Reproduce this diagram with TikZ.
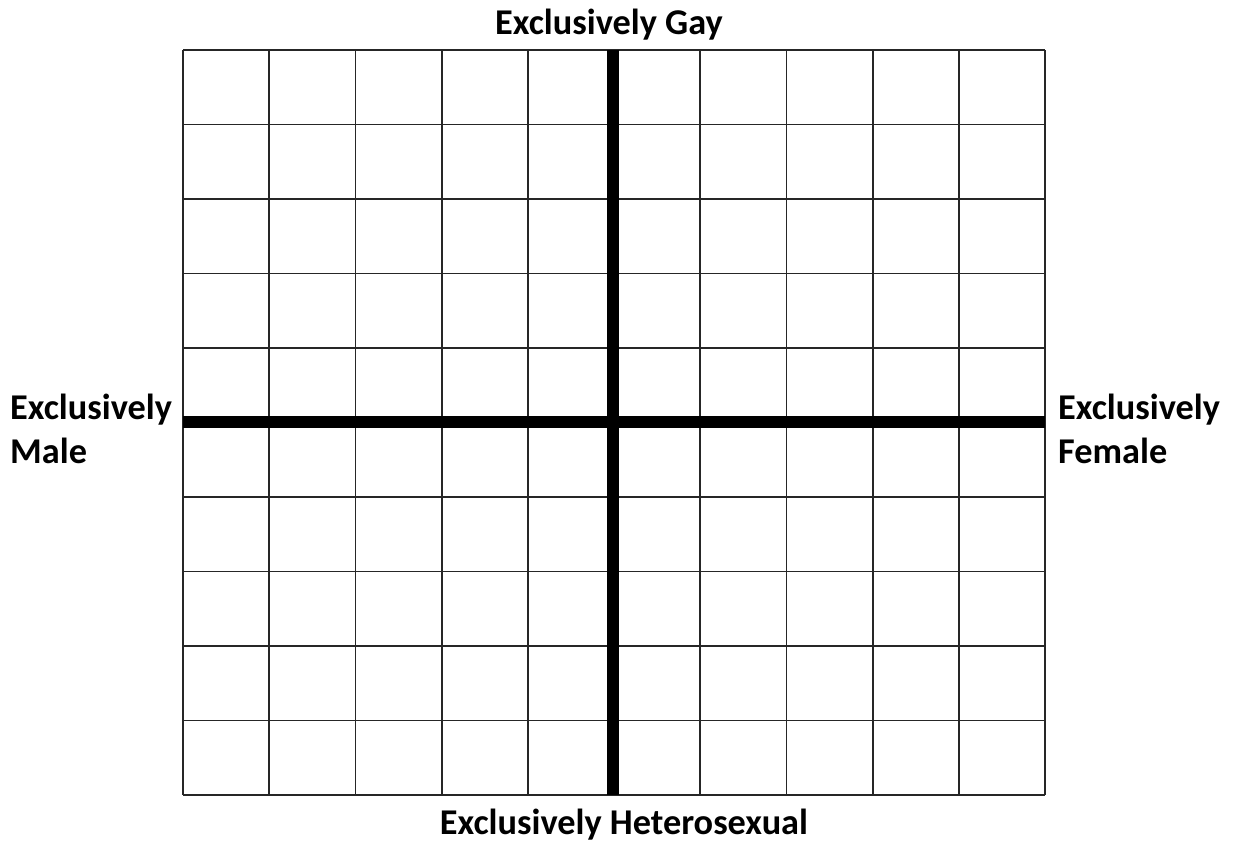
\documentclass[tikz,border=0pt]{standalone}
\usepackage{fontspec}
\setmainfont{Carlito}
\usetikzlibrary{positioning}

\begin{document}
\begin{tikzpicture}[
x=1pt, y=-1pt,
gridline/.style={line width=1.8pt, black!85},
axisline/.style={line width=11.5pt, black},
axlabel/.style={font=\bfseries\fontsize{36.3}{44}\selectfont, inner sep=0pt, align=left}
]
\useasboundingbox (0,0) rectangle (1238,841);

% grid, 10 x 10 cells
\foreach \i in {0,...,10} {
  \draw[gridline] ({183+86.2*\i},50) -- ({183+86.2*\i},795);
  \draw[gridline] (183,{50+74.5*\i}) -- (1045,{50+74.5*\i});
}

\coordinate (ax_top) at (613,50);
\coordinate (ax_bot) at (613,795);
\coordinate (ax_left) at (183,422);
\coordinate (ax_right) at (1045,422);

\draw[axisline] (ax_top) -- (ax_bot);
\draw[axisline] (ax_left) -- (ax_right);

\node[axlabel, anchor=base] (lab_gay) at (609,34) {Exclusively Gay};
\node[axlabel, anchor=base] (lab_het) at (624,834) {Exclusively Heterosexual};
\node[axlabel, anchor=north west] (lab_male) at (10,394) {Exclusively\\Male};
\node[axlabel, anchor=north west] (lab_female) at (1058,394) {Exclusively\\Female};

\end{tikzpicture}
\end{document}
